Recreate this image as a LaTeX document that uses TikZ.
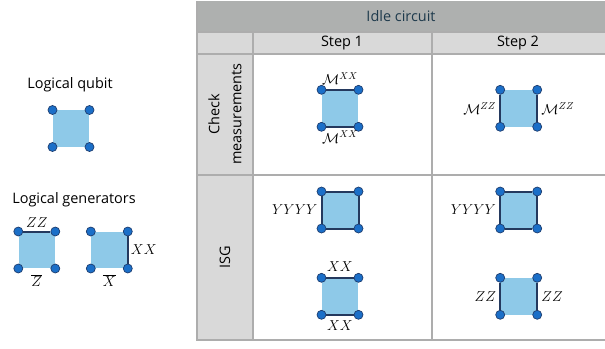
\documentclass[tikz,border=0pt]{standalone}
\usepackage{fontspec}
\setmainfont{Open Sans}
\usetikzlibrary{positioning}

\definecolor{plaqfill}{HTML}{8EC9E8}
\definecolor{dotfill}{HTML}{1B6FC8}
\definecolor{dotline}{HTML}{1F3D6E}
\definecolor{chkline}{HTML}{24395E}
\definecolor{headgray}{HTML}{AEB0AF}
\definecolor{cellgray}{HTML}{D9D9D9}
\definecolor{gridgray}{HTML}{ADADAD}
\definecolor{headtext}{HTML}{1E3A4C}

\tikzset{
	plaq/.style={rectangle, fill=plaqfill, inner sep=0pt, minimum size=36.6bp},
	qdot/.style={circle, fill=dotfill, draw=dotline, line width=0.7bp, inner sep=0pt, minimum size=9bp},
	chk/.style={draw=chkline, line width=2bp},
	lbl/.style={inner sep=1pt, font=\fontsize{14.5}{17}\selectfont},
	txt/.style={font=\fontsize{14.5}{17}\selectfont},
	grid/.style={draw=gridgray, line width=2bp}
}

% square with four named corner qubits
\newcommand{\plaq}[2]{%
	\node[plaq] (#1) at (#2) {};
	\foreach \c/\n in {north west/nw,north east/ne,south west/sw,south east/se}
		\node[qdot] (#1\n) at (#1.\c) {};
}

\begin{document}
\begin{tikzpicture}[x=1bp,y=-1bp]
	\useasboundingbox (0,0) rectangle (605,348);

	% table background
	\fill[headgray] (197,1) rectangle (605,32);
	\fill[cellgray] (197,32) rectangle (605,54);
	\fill[cellgray] (197,54) rectangle (252.5,340);
	\draw[grid] (197,32) -- (605,32);
	\draw[grid] (197,54) -- (605,54);
	\draw[grid] (197,175) -- (605,175);
	\draw[grid] (196,340) -- (605,340);
	\draw[grid] (197,1) -- (197,340);
	\draw[grid] (252.5,32) -- (252.5,340);
	\draw[grid] (431.5,32) -- (431.5,340);

	\node[txt, text=headtext] (title) at (401,16) {Idle circuit};
	\node[txt] (step1) at (342,43) {Step 1};
	\node[txt] (step2) at (518,43) {Step 2};
	\node[txt, rotate=90, align=center, font=\fontsize{14.5}{22}\selectfont] (rowchk) at (225,114) {Check\\measurements};
	\node[txt, rotate=90] (rowisg) at (225,257) {ISG};

	% logical qubit
	\node[txt] (qtxt) at (70,85) {Logical qubit};
	\plaq{Q}{71,128.5}

	% logical generators
	\node[txt] (gtxt) at (74,200) {Logical generators};
	\plaq{G1}{36.8,250}
	\plaq{G2}{109.3,250}
	\draw[chk] (G1nw) -- (G1ne);
	\draw[chk] (G2ne) -- (G2se);
	\node[lbl, above=3bp of G1] (g1top) {$ZZ$};
	\node[lbl, below=5bp of G1] (g1bot) {$\overline{Z}$};
	\node[lbl, right=2bp of G2] (g2rt) {$XX$};
	\node[lbl, below=5bp of G2] (g2bot) {$\overline{X}$};

	% check measurements
	\plaq{C1}{340,108.3}
	\plaq{C2}{518.7,108.3}
	\draw[chk] (C1nw) -- (C1ne);
	\draw[chk] (C1sw) -- (C1se);
	\draw[chk] (C2nw) -- (C2sw);
	\draw[chk] (C2ne) -- (C2se);
	\node[lbl, above=4bp of C1] (c1top) {$\mathcal{M}^{XX}$};
	\node[lbl, below=3bp of C1] (c1bot) {$\mathcal{M}^{XX}$};
	\node[lbl, left=3bp of C2] (c2lt) {$\mathcal{M}^{ZZ}$};
	\node[lbl, right=3bp of C2] (c2rt) {$\mathcal{M}^{ZZ}$};

	% ISG
	\plaq{I1}{340,210}
	\plaq{I2}{518.7,210}
	\plaq{I3}{340,296.3}
	\plaq{I4}{518.7,296.3}
	\foreach \s in {I1,I2}{
		\draw[chk] (\s nw) -- (\s ne);
		\draw[chk] (\s ne) -- (\s se);
		\draw[chk] (\s se) -- (\s sw);
		\draw[chk] (\s sw) -- (\s nw);
	}
	\draw[chk] (I3nw) -- (I3ne);
	\draw[chk] (I3sw) -- (I3se);
	\draw[chk] (I4nw) -- (I4sw);
	\draw[chk] (I4ne) -- (I4se);
	\node[lbl, left=3bp of I1] (i1lt) {$YYYY$};
	\node[lbl, left=3bp of I2] (i2lt) {$YYYY$};
	\node[lbl, above=5bp of I3] (i3top) {$XX$};
	\node[lbl, below=5bp of I3] (i3bot) {$XX$};
	\node[lbl, left=3bp of I4] (i4lt) {$ZZ$};
	\node[lbl, right=3bp of I4] (i4rt) {$ZZ$};
\end{tikzpicture}
\end{document}
